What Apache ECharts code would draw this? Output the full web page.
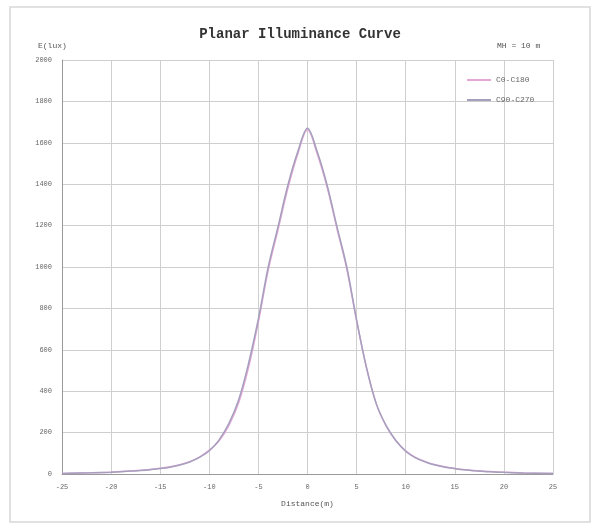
<!DOCTYPE html>
<html><head><meta charset="utf-8">
<script src="https://cdn.jsdelivr.net/npm/echarts@6/dist/echarts.min.js"></script>
<style>html,body{margin:0;padding:0;background:#fff}#c{width:600px;height:529px}</style>
</head><body><div id="c"></div>
<script>
const distances = [-25,-22,-20,-19,-18,-17,-16,-15,-14,-13,-12,-11,-10,-9,-8,-7,-6,-5,-4,-3,-2,-1,0,1,2,3,4,5,6,7,8,9,10,11,12,13,14,15,16,17,18,19,20,22,25];
const c0c180 = [3,6,9,12,14,18,22,28,35,45,60,82,115,160,235,345,515,735,985,1180,1380,1545,1663,1545,1385,1185,990,740,515,340,232,160,112,80,60,45,35,27,21,17,13,11,8,5,3];
const c90c270 = [3,6,9,11,14,17,21,26,33,43,58,80,112,165,245,360,535,750,1000,1195,1395,1555,1670,1555,1395,1195,1000,745,515,340,235,162,110,78,58,43,33,26,20,16,12,10,8,5,3];
const xTicks = [-25,-20,-15,-10,-5,0,5,10,15,20,25];
const yTicks = [0,200,400,600,800,1000,1200,1400,1600,1800,2000];
const seriesNames = ['C0-C180','C90-C270'];

const chart = echarts.init(document.getElementById('c'));
const mono = 'Liberation Mono';
chart.setOption({
  animation:false,
  backgroundColor:'#fff',
  title:{text:'Planar Illuminance Curve',left:'center',top:22,
    textStyle:{fontFamily:mono,fontSize:14,fontWeight:'bold',color:'#333'}},
  graphic:[
    {type:'rect',shape:{x:10,y:7,width:580,height:515},style:{fill:'none',stroke:'#d8d8d8',lineWidth:1.5}},
    {type:'text',left:38,top:42,style:{text:'E(lux)',font:'8px "Liberation Mono"',fill:'#555'}},
    {type:'text',left:497,top:42,style:{text:'MH = 10 m',font:'8px "Liberation Mono"',fill:'#555'}}
  ],
  legend:{data:seriesNames,orient:'vertical',left:462,top:71,itemWidth:24,itemHeight:2,itemGap:12,icon:'rect',
    textStyle:{fontFamily:mono,fontSize:8,color:'#666'}},
  grid:{left:62,right:47,top:60,bottom:55},
  xAxis:{type:'value',min:-25,max:25,interval:5,name:'Distance(m)',nameLocation:'middle',nameGap:26,
    nameTextStyle:{fontFamily:mono,fontSize:8,color:'#555'},
    axisLine:{show:true,onZero:false,lineStyle:{color:'#999'}},axisTick:{show:false},
    axisLabel:{fontFamily:mono,fontSize:7,color:'#666',margin:10,customValues:xTicks},
    splitLine:{show:true,lineStyle:{color:'#cfcfcf'}}},
  yAxis:{type:'value',min:0,max:2000,interval:200,
    axisLine:{show:true,onZero:false,lineStyle:{color:'#999'}},axisTick:{show:false},
    axisLabel:{fontFamily:mono,fontSize:7,color:'#666',margin:10,customValues:yTicks,formatter:v=>String(v)},
    splitLine:{show:true,lineStyle:{color:'#cfcfcf'}}},
  series:[
    {name:seriesNames[0],type:'line',smooth:0.35,showSymbol:false,data:distances.map((d,i)=>[d,c0c180[i]]),
      lineStyle:{color:'#e3a8d8',width:1.5},itemStyle:{color:'#e3a8d8'}},
    {name:seriesNames[1],type:'line',smooth:0.35,showSymbol:false,data:distances.map((d,i)=>[d,c90c270[i]]),
      lineStyle:{color:'#a59fbd',width:1.5},itemStyle:{color:'#a59fbd'}}
  ]
});
</script></body></html>
